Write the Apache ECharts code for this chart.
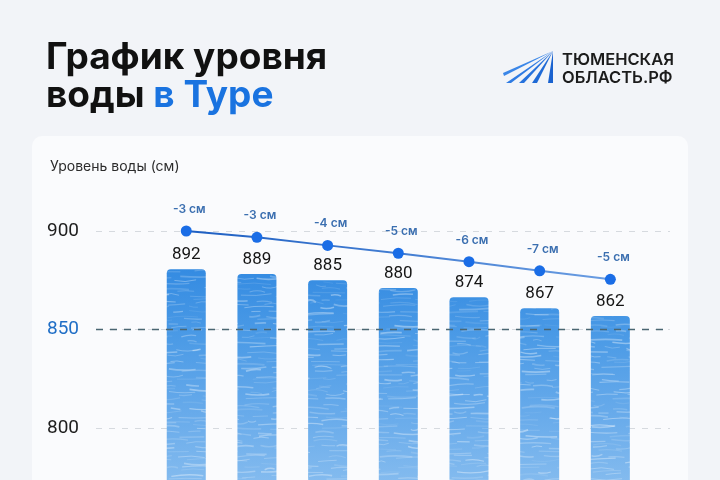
<!DOCTYPE html>
<html>
<head>
<meta charset="utf-8">
<script src="https://cdn.jsdelivr.net/npm/echarts@6/dist/echarts.min.js"></script>
<style>
html,body{margin:0;padding:0;background:#f2f4f8;}
#chart{width:720px;height:480px;}
</style>
</head>
<body>
<div id="chart"></div>
<script>
// ---- data ----
const levels = [892, 889, 885, 880, 874, 867, 862];          // bar values (cm)
const trend = [900, 896.8, 892.7, 888.7, 884.4, 879.8, 875.5]; // trend line points
const changes = [-3, -3, -4, -5, -6, -7, -5];                 // change labels (cm)
const yTicks = [800, 850, 900];
const highlightTick = 850;

// decorative water-like texture (deterministic)
function hash(n) { const s = Math.sin(n * 12.9898 + 78.233) * 43758.5453; return s - Math.floor(s); }
function makeWater(w, h) {
  const c = document.createElement('canvas');
  c.width = w; c.height = h;
  const g = c.getContext('2d');
  const grad = g.createLinearGradient(0, 0, 0, h);
  grad.addColorStop(0, '#2a80dc');
  grad.addColorStop(260 / h, '#3189e1');
  grad.addColorStop(340 / h, '#4c9be6');
  grad.addColorStop(420 / h, '#6aaceb');
  grad.addColorStop(1, '#9cc9f2');
  g.fillStyle = grad;
  g.fillRect(0, 0, w, h);
  let n = 1;
  for (let y0 = 0; y0 < h; y0 += 4) {
    let x = -20 + hash(n++) * 20;
    while (x < w) {
      const len = 8 + hash(n++) * 26;
      const amp = (hash(n++) - 0.5) * 6;
      const yy = y0 + (hash(n++) - 0.5) * 4;
      const a = 0.08 + hash(n++) * 0.3;
      g.beginPath();
      g.moveTo(x, yy);
      g.quadraticCurveTo(x + len / 2, yy + amp, x + len, yy + (hash(n++) - 0.5) * 3);
      g.strokeStyle = 'rgba(255,255,255,' + a.toFixed(3) + ')';
      g.lineWidth = 0.7 + hash(n++) * 1.1;
      g.stroke();
      x += len + 4 + hash(n++) * 18;
    }
  }
  return c;
}
const water = makeWater(720, 540);

const chart = echarts.init(document.getElementById('chart'));
const idx = levels.map((_, i) => i);

chart.setOption({
  animation: false,
  backgroundColor: '#f2f4f8',
  title: {
    left: 41, top: 34,
    text: '{a|График уровня}\n{a|воды }{b|в Туре}',
    textStyle: {
      rich: {
        a: { fontFamily: 'Inter', fontWeight: 700, fontSize: 37, color: '#111', lineHeight: 38 },
        b: { fontFamily: 'Inter', fontWeight: 700, fontSize: 37, color: '#1a73e0', lineHeight: 38 }
      }
    }
  },
  graphic: [
    { type: 'rect', z: -10, shape: { x: 32, y: 136, width: 656, height: 360, r: 10 }, style: { fill: '#fafbfd' } },
    { type: 'text', left: 50, top: 160, style: { text: 'Уровень воды (см)', font: '400 14px Inter', fill: '#2b2b2b' } },
    { type: 'text', left: 562, top: 51, style: { text: 'ТЮМЕНСКАЯ\nОБЛАСТЬ.РФ', font: '600 16.5px Inter', fill: '#1c1c1c', lineHeight: 18 } },
    { type: 'group', children: [
      { type: 'polygon', shape: { points: [[553, 51], [503, 73], [504, 76]] }, style: { fill: '#3a86e8' } },
      { type: 'polygon', shape: { points: [[553, 51], [506, 83], [511, 83]] }, style: { fill: '#2f7be3' } },
      { type: 'polygon', shape: { points: [[553, 51], [519, 83], [524, 83]] }, style: { fill: '#2672dd' } },
      { type: 'polygon', shape: { points: [[553, 51], [532, 83], [537, 83]] }, style: { fill: '#1f6ad6' } },
      { type: 'polygon', shape: { points: [[553, 51], [548, 83], [553, 83]] }, style: { fill: '#1a62cf' } }
    ]}
  ],
  grid: { left: 96, right: 50, top: 231, height: 295.5, containLabel: false, outerBoundsMode: 'none' },
  xAxis: { type: 'value', min: -1.277, max: 6.844, show: false },
  yAxis: [
    {
      type: 'value', min: 750, max: 900, interval: 50,
      axisLine: { show: false }, axisTick: { show: false },
      axisLabel: {
        margin: 17,
        formatter: v => (yTicks.indexOf(v) < 0 ? '' : (v === highlightTick ? '{h|' + v + '}' : '{n|' + v + '}')),
        rich: {
          n: { fontFamily: 'Roboto', fontSize: 19, color: '#1e1e1e' },
          h: { fontFamily: 'Roboto', fontSize: 19, color: '#1f6ec6' }
        }
      },
      splitLine: { show: true, lineStyle: { color: '#d6dadf', type: [6, 7], width: 1 } }
    },
    { type: 'value', min: 726.5, max: 916.7, show: false, splitLine: { show: false } }
  ],
  series: [
    {
      type: 'bar', xAxisIndex: 0, yAxisIndex: 1, barWidth: 39,
      data: idx.map(i => [i, levels[i]]),
      itemStyle: { color: { image: water, repeat: 'repeat' }, borderRadius: [4, 4, 0, 0] },
      label: { show: true, position: 'top', distance: 6, formatter: p => String(p.value[1]),
               fontFamily: 'Roboto', fontSize: 17, color: '#151515' },
      z: 2
    },
    {
      type: 'line', xAxisIndex: 0, yAxisIndex: 0, clip: false, z: 4,
      data: idx.map(i => [i, trend[i]]),
      symbol: 'circle', symbolSize: 11,
      lineStyle: { width: 2, color: new echarts.graphic.LinearGradient(0, 0, 1, 0, [
        { offset: 0, color: '#1c5ec2' }, { offset: 1, color: '#6a9de2' }]) },
      itemStyle: { color: '#1a6de6' },
      label: { show: true, position: 'top', distance: 10, offset: [3, 0],
               formatter: p => changes[p.dataIndex] + ' см',
               fontFamily: 'Inter', fontWeight: 600, fontSize: 12, color: '#3b6fb0' },
      markLine: {
        silent: true, symbol: ['none', 'none'], animation: false,
        label: { show: false },
        lineStyle: { color: '#4a6672', type: [7, 7], width: 1.3 },
        data: [{ yAxis: highlightTick }]
      }
    }
  ]
});
</script>
</body>
</html>
